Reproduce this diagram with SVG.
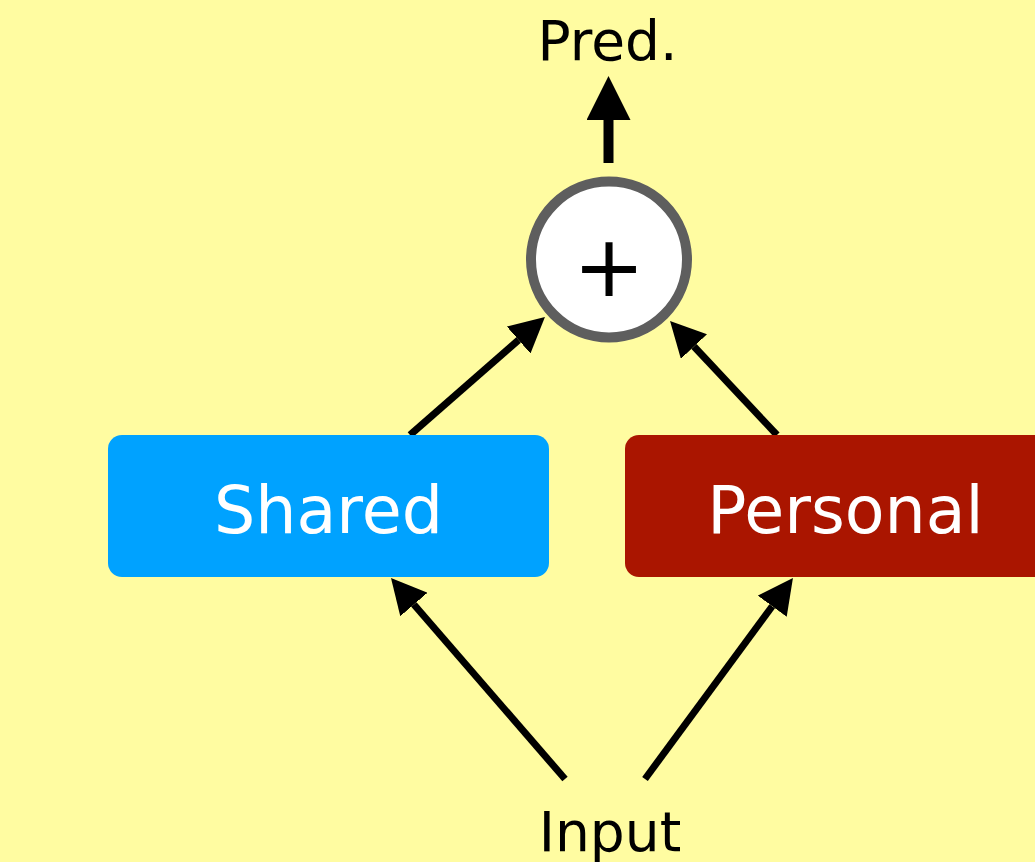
<svg xmlns="http://www.w3.org/2000/svg" width="1035" height="862" viewBox="0 0 1035 862">
  <style>
    .lbl { font-family: "DejaVu Sans", Verdana, sans-serif; text-anchor: middle; }
    .io { font-size: 55px; fill: #000; }
    .box-text { font-size: 65px; fill: #fff; }
    .edge { stroke: #000; stroke-width: 7; fill: none; marker-end: url(#head); }
    .edge-out { stroke: #000; stroke-width: 10; fill: none; marker-end: url(#head-big); }
  </style>
  <defs>
    <marker id="head" markerUnits="userSpaceOnUse" markerWidth="36" markerHeight="36" refX="0" refY="18" orient="auto">
      <path d="M0,0 L35,18 L0,36 z" fill="#000"/>
    </marker>
    <marker id="head-big" markerUnits="userSpaceOnUse" markerWidth="44" markerHeight="44" refX="0" refY="22" orient="auto">
      <path d="M0,0 L44,22 L0,44 z" fill="#000"/>
    </marker>
  </defs>

  <rect width="1035" height="862" fill="#FFFCA1"/>

  <g id="connectors">
    <line class="edge" x1="565" y1="779" x2="413.9" y2="604.5"/>
    <line class="edge" x1="645" y1="779" x2="772.2" y2="606.2"/>
    <line class="edge" x1="410" y1="435" x2="518.6" y2="340"/>
    <line class="edge" x1="777" y1="435" x2="694" y2="346.5"/>
    <line class="edge-out" x1="608.5" y1="163" x2="608.5" y2="120"/>
  </g>

  <g id="shared">
    <rect x="108" y="435" width="441" height="142" rx="14" fill="#00A2FF"/>
    <text class="lbl box-text" x="328.5" y="533">Shared</text>
  </g>

  <g id="personal">
    <rect x="625" y="435" width="441" height="142" rx="14" fill="#AA1500"/>
    <text class="lbl box-text" x="845.5" y="533">Personal</text>
  </g>

  <g id="sum">
    <circle cx="609" cy="259.5" r="78" fill="#fff" stroke="#5E5E5E" stroke-width="10"/>
    <text class="lbl" x="609" y="296" font-size="86" fill="#000">+</text>
  </g>

  <g id="pred">
    <text class="lbl io" x="607.5" y="60">Pred.</text>
  </g>

  <g id="input">
    <text class="lbl io" x="610" y="851">Input</text>
  </g>
</svg>
